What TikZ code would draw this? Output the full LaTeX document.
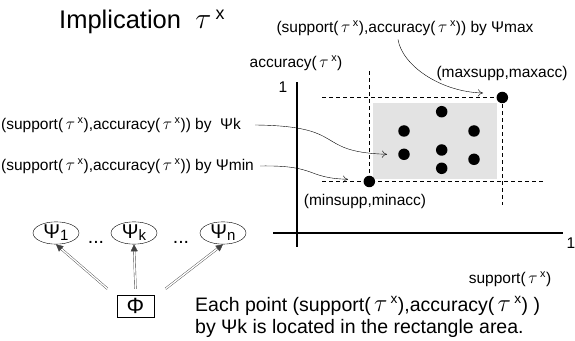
\documentclass[tikz,border=0pt]{standalone}
\usepackage{fontspec}
\setmainfont{Liberation Sans}
\usepackage{amsmath}
\usepackage{graphicx}
\usetikzlibrary{arrows.meta,shapes.geometric}
\newcommand{\tauch}{\scalebox{1.2}{$\tau$}}
\newcommand{\taux}{(\,\tauch\,\textsuperscript{x})}
\tikzset{
  lbl/.style={font=\fontsize{15.5}{18}\selectfont, inner sep=0pt},
  big/.style={font=\fontsize{19.5}{22}\selectfont, inner sep=0pt},
  psinode/.style={ellipse, draw, thin, font=\fontsize{20}{22}\selectfont, inner sep=0pt, minimum width=46pt, minimum height=20pt},
  pnt/.style={circle, fill=black, inner sep=0pt, minimum size=11.5pt},
  bound/.style={dashed, dash pattern=on 4pt off 3pt, thin},
  pointer/.style={-{To[length=5pt,width=7pt]}, thin},
  gen/.style={double, double distance=1.4pt, thin, color=black!75, -{Triangle[length=7pt,width=7pt]}}
}
\begin{document}
\begin{tikzpicture}[scale=1.000000,x=1pt,y=1pt]
\useasboundingbox (0,0) rectangle (575,340);
% Drawing title
\node[anchor=base west, font=\fontsize{25.5}{29}\selectfont, inner sep=0pt] (title) at (59,311) {Implication\ \ \tauch\,\textsuperscript{x}};
% Drawing axes
\draw[line width=1.8pt] (297,93) -- (297,258);
\draw[line width=1.8pt] (273,107.3) -- (563,107.3);
\node[lbl] (oneY) at (283,253) {1};
\node[lbl] (oneX) at (571,97) {1};
\node[lbl] (accLbl) at (296,277) {accuracy\taux};
\node[lbl] (suppLbl) at (510,61) {support\taux};
% Drawing the rectangle area
\fill[black!11] (373.3,161) rectangle (497.3,237.3);
\draw[bound] (322,242.5) -- (502.3,242.5);
\draw[bound] (322,158.5) -- (545,158.5);
\draw[bound] (369.3,268.5) -- (369.3,158.5);
\draw[bound] (502.3,242.5) -- (502.3,135);
% Drawing points
\node[pnt] (minPt) at (369.3,158.5) {};
\node[pnt] (maxPt) at (502.3,242.5) {};
\node[pnt] (p1) at (441.7,228.3) {};
\node[pnt] (p2) at (404,209) {};
\node[pnt] (p3) at (474,209) {};
\node[pnt] (kPt) at (404,185.7) {};
\node[pnt] (p5) at (441.7,190) {};
\node[pnt] (p6) at (474,180.7) {};
\node[pnt] (p7) at (441.7,171.7) {};
\node[lbl] (maxLbl) at (502,267) {(maxsupp,maxacc)};
\node[lbl] (minLbl) at (365,138.3) {(minsupp,minacc)};
% Drawing pointers
\node[lbl] (maxDesc) at (405,312) {(support\taux,accuracy\taux) by Ψmax};
\node[lbl, anchor=west] (kDesc) at (1,215) {(support\taux,accuracy\taux) by\ \ Ψk};
\node[lbl, anchor=west] (minDesc) at (1,174) {(support\taux,accuracy\taux) by Ψmin};
\coordinate (maxEnd) at (483,247);
\coordinate (kEnd) at (387,185.7);
\coordinate (minEnd) at (348,160.7);
\draw[pointer] ([xshift=-7pt,yshift=-4pt]maxDesc.south) .. controls (402,275) and (440,248) .. (maxEnd);
\draw[pointer] ([xshift=14pt]kDesc.east) .. controls (350,214) and (312,188) .. (kEnd);
\draw[pointer] ([xshift=6pt]minDesc.east) .. controls (318,175) and (305,162) .. (minEnd);
% Drawing generator
\node[psinode] (psi1) at (56,107) {Ψ\raisebox{-2pt}{\fontsize{15}{17}\selectfont 1}};
\node[psinode] (psik) at (134,107) {Ψ\raisebox{-2pt}{\fontsize{15}{17}\selectfont k}};
\node[psinode] (psin) at (223,107) {Ψ\raisebox{-2pt}{\fontsize{15}{17}\selectfont n}};
\node[big, anchor=base] (dotsA) at (96,96) {...};
\node[big, anchor=base] (dotsB) at (181,96) {...};
\node[draw, thin, font=\fontsize{22}{24}\selectfont, minimum width=37pt, minimum height=22pt, inner sep=0pt] (phi) at (135.5,34) {Φ};
\draw[gen] ([xshift=-28pt,yshift=6pt]phi.north) -- (psi1.south);
\draw[gen] ([yshift=6pt]phi.north) -- (psik.south);
\draw[gen] ([xshift=30pt,yshift=6pt]phi.north) -- (psin.south);
% Drawing note
\node[big, anchor=west] (note1) at (195,34) {Each point (support\taux,accuracy\taux\ )};
\node[big, anchor=west] (note2) at (195,12) {by Ψk is located in the rectangle area.};
\end{tikzpicture}
\end{document}
